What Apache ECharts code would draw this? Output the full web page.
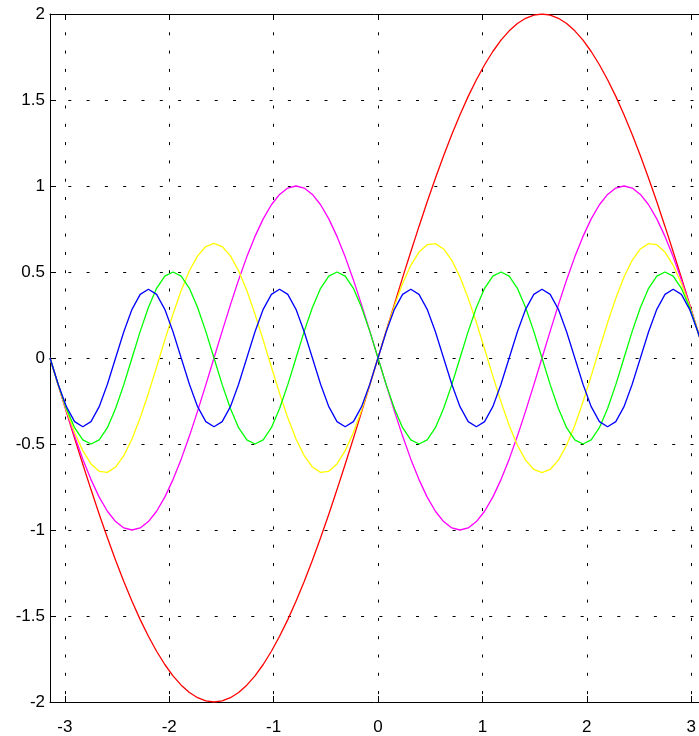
<!DOCTYPE html>
<html>
<head>
<meta charset="utf-8">
<script src="https://cdn.jsdelivr.net/npm/echarts@6/dist/echarts.min.js"></script>
<style>
html,body{margin:0;padding:0;background:#fff;overflow:hidden;}
#chart{width:699px;height:736px;}
</style>
</head>
<body>
<div id="chart"></div>
<script>
const xs = [-3.1416,-3.0631,-2.9845,-2.9060,-2.8274,-2.7489,-2.6704,-2.5918,-2.5133,-2.4347,-2.3562,-2.2777,-2.1991,-2.1206,-2.0420,-1.9635,-1.8850,-1.8064,-1.7279,-1.6493,-1.5708,-1.4923,-1.4137,-1.3352,-1.2566,-1.1781,-1.0996,-1.0210,-0.9425,-0.8639,-0.7854,-0.7069,-0.6283,-0.5498,-0.4712,-0.3927,-0.3142,-0.2356,-0.1571,-0.0785,0,0.0785,0.1571,0.2356,0.3142,0.3927,0.4712,0.5498,0.6283,0.7069,0.7854,0.8639,0.9425,1.0210,1.0996,1.1781,1.2566,1.3352,1.4137,1.4923,1.5708,1.6493,1.7279,1.8064,1.8850,1.9635,2.0420,2.1206,2.1991,2.2777,2.3562,2.4347,2.5133,2.5918,2.6704,2.7489,2.8274,2.9060,2.9845,3.0631,3.1416];

const redVals = [0,-0.157,-0.313,-0.467,-0.618,-0.765,-0.908,-1.045,-1.176,-1.299,-1.414,-1.521,-1.618,-1.705,-1.782,-1.848,-1.902,-1.945,-1.975,-1.994,-2,-1.994,-1.975,-1.945,-1.902,-1.848,-1.782,-1.705,-1.618,-1.521,-1.414,-1.299,-1.176,-1.045,-0.908,-0.765,-0.618,-0.467,-0.313,-0.157,0,0.157,0.313,0.467,0.618,0.765,0.908,1.045,1.176,1.299,1.414,1.521,1.618,1.705,1.782,1.848,1.902,1.945,1.975,1.994,2,1.994,1.975,1.945,1.902,1.848,1.782,1.705,1.618,1.521,1.414,1.299,1.176,1.045,0.908,0.765,0.618,0.467,0.313,0.157,0];

const magentaVals = [0,-0.156,-0.309,-0.454,-0.588,-0.707,-0.809,-0.891,-0.951,-0.988,-1,-0.988,-0.951,-0.891,-0.809,-0.707,-0.588,-0.454,-0.309,-0.156,0,0.156,0.309,0.454,0.588,0.707,0.809,0.891,0.951,0.988,1,0.988,0.951,0.891,0.809,0.707,0.588,0.454,0.309,0.156,0,-0.156,-0.309,-0.454,-0.588,-0.707,-0.809,-0.891,-0.951,-0.988,-1,-0.988,-0.951,-0.891,-0.809,-0.707,-0.588,-0.454,-0.309,-0.156,0,0.156,0.309,0.454,0.588,0.707,0.809,0.891,0.951,0.988,1,0.988,0.951,0.891,0.809,0.707,0.588,0.454,0.309,0.156,0];

const yellowVals = [0,-0.156,-0.303,-0.433,-0.539,-0.616,-0.659,-0.665,-0.634,-0.568,-0.471,-0.348,-0.206,-0.052,0.104,0.255,0.392,0.507,0.594,0.648,0.667,0.648,0.594,0.507,0.392,0.255,0.104,-0.052,-0.206,-0.348,-0.471,-0.568,-0.634,-0.665,-0.659,-0.616,-0.539,-0.433,-0.303,-0.156,0,0.156,0.303,0.433,0.539,0.616,0.659,0.665,0.634,0.568,0.471,0.348,0.206,0.052,-0.104,-0.255,-0.392,-0.507,-0.594,-0.648,-0.667,-0.648,-0.594,-0.507,-0.392,-0.255,-0.104,0.052,0.206,0.348,0.471,0.568,0.634,0.665,0.659,0.616,0.539,0.433,0.303,0.156,0];

const greenVals = [0,-0.155,-0.294,-0.405,-0.476,-0.5,-0.476,-0.405,-0.294,-0.155,0,0.155,0.294,0.405,0.476,0.5,0.476,0.405,0.294,0.155,0,-0.155,-0.294,-0.405,-0.476,-0.5,-0.476,-0.405,-0.294,-0.155,0,0.155,0.294,0.405,0.476,0.5,0.476,0.405,0.294,0.155,0,-0.155,-0.294,-0.405,-0.476,-0.5,-0.476,-0.405,-0.294,-0.155,0,0.155,0.294,0.405,0.476,0.5,0.476,0.405,0.294,0.155,0,-0.155,-0.294,-0.405,-0.476,-0.5,-0.476,-0.405,-0.294,-0.155,0,0.155,0.294,0.405,0.476,0.5,0.476,0.405,0.294,0.155,0];

const blueVals = [0,-0.153,-0.283,-0.370,-0.4,-0.370,-0.283,-0.153,0,0.153,0.283,0.370,0.4,0.370,0.283,0.153,0,-0.153,-0.283,-0.370,-0.4,-0.370,-0.283,-0.153,0,0.153,0.283,0.370,0.4,0.370,0.283,0.153,0,-0.153,-0.283,-0.370,-0.4,-0.370,-0.283,-0.153,0,0.153,0.283,0.370,0.4,0.370,0.283,0.153,0,-0.153,-0.283,-0.370,-0.4,-0.370,-0.283,-0.153,0,0.153,0.283,0.370,0.4,0.370,0.283,0.153,0,-0.153,-0.283,-0.370,-0.4,-0.370,-0.283,-0.153,0,0.153,0.283,0.370,0.4,0.370,0.283,0.153,0];

const xTicks = [-3,-2,-1,0,1,2,3];

const seriesDefs = [
  {name:'red', vals: redVals, color:'#ff0000'},
  {name:'magenta', vals: magentaVals, color:'#ff00ff'},
  {name:'yellow', vals: yellowVals, color:'#ffff00'},
  {name:'green', vals: greenVals, color:'#00ff00'},
  {name:'blue', vals: blueVals, color:'#0000ff'}
];

const font = {fontFamily:'"Liberation Sans", Arial, sans-serif', fontSize:17, color:'#000'};
const gridLine = {show:true, lineStyle:{color:'#000', width:1, type:[3,15.3]}};

const chart = echarts.init(document.getElementById('chart'), null, {renderer:'canvas'});
chart.setOption({
  animation:false,
  backgroundColor:'#fff',
  grid:{left:50, top:14, width:656, height:688, containLabel:false, outerBoundsMode:'none'},
  xAxis:[{
    type:'value', position:'bottom', min:-3.1416, max:3.1416,
    axisLine:{show:true, onZero:false, lineStyle:{color:'#000', width:1}},
    axisTick:{show:true, inside:true, length:6, customValues:xTicks, lineStyle:{color:'#000'}},
    axisLabel:Object.assign({show:true, margin:17, customValues:xTicks}, font),
    splitLine:gridLine
  },{
    type:'value', position:'top', min:-3.1416, max:3.1416,
    axisLine:{show:true, onZero:false, lineStyle:{color:'#000', width:1}},
    axisTick:{show:true, inside:true, length:6, customValues:xTicks, lineStyle:{color:'#000'}},
    axisLabel:{show:false},
    splitLine:{show:false}
  }],
  yAxis:[{
    type:'value', position:'left', min:-2, max:2, interval:0.5,
    axisLine:{show:true, onZero:false, lineStyle:{color:'#000', width:1}},
    axisTick:{show:true, inside:true, length:6, lineStyle:{color:'#000'}},
    axisLabel:Object.assign({show:true, margin:5}, font),
    splitLine:gridLine
  },{
    type:'value', position:'right', min:-2, max:2, interval:0.5,
    axisLine:{show:true, onZero:false, lineStyle:{color:'#000', width:1}},
    axisTick:{show:true, inside:true, length:6, lineStyle:{color:'#000'}},
    axisLabel:{show:false},
    splitLine:{show:false}
  }],
  series: seriesDefs.map(s => ({
    name:s.name, type:'line', xAxisIndex:0, yAxisIndex:0,
    data: xs.map((x,i) => [x, s.vals[i]]),
    showSymbol:false, symbol:'none', smooth:false,
    lineStyle:{color:s.color, width:1.3},
    itemStyle:{color:s.color},
    clip:true
  }))
});
</script>
</body>
</html>
